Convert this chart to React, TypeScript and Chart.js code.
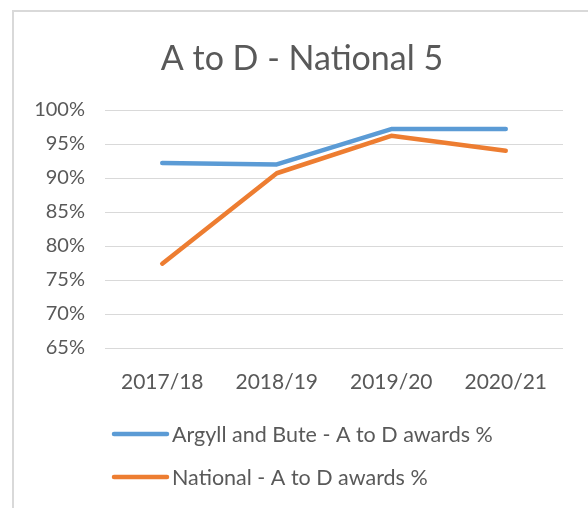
import React, { useEffect, useRef } from "react";
import { Chart, registerables } from "chart.js";

Chart.register(...registerables);

const TITLE = "A to D - National 5";
const categories = ["2017/18", "2018/19", "2019/20", "2020/21"];
const argyllValues = [92.2, 92.0, 97.2, 97.2];
const nationalValues = [77.4, 90.7, 96.2, 94.0];
const seriesNames = ["Argyll and Bute - A to D awards %", "National - A to D awards %"];
const seriesColors = ["#5B9BD5", "#ED7D31"];
const yMin = 65;
const yMax = 100;
const yStep = 5;

const FONT = "Lato, 'Open Sans', sans-serif";
const TEXT_COLOR = "#595959";

const overlayPlugin = {
  id: "overlay",
  afterDraw(chart: any) {
    const ctx = chart.ctx;
    ctx.save();
    // title
    ctx.fillStyle = TEXT_COLOR;
    ctx.font = `34px ${FONT}`;
    ctx.textAlign = "center";
    ctx.textBaseline = "alphabetic";
    ctx.fillText(TITLE, 302, 70);
    // legend
    const rows = [434, 477];
    ctx.font = `21.5px ${FONT}`;
    ctx.textAlign = "left";
    ctx.textBaseline = "middle";
    seriesNames.forEach((name, i) => {
      const y = rows[i];
      ctx.strokeStyle = seriesColors[i];
      ctx.lineWidth = 4.5;
      ctx.lineCap = "round";
      ctx.beginPath();
      ctx.moveTo(114, y);
      ctx.lineTo(167, y);
      ctx.stroke();
      ctx.fillStyle = TEXT_COLOR;
      ctx.fillText(name, 172, y + 1);
    });
    ctx.restore();
  },
};

export default function App() {
  const ref = useRef<HTMLCanvasElement | null>(null);
  useEffect(() => {
    if (!ref.current) return;
    const chart = new Chart(ref.current, {
      type: "line",
      data: {
        labels: categories,
        datasets: [
          {
            label: seriesNames[0],
            data: argyllValues,
            borderColor: seriesColors[0],
            backgroundColor: seriesColors[0],
            borderWidth: 4.5,
            borderCapStyle: "round",
            borderJoinStyle: "round",
            pointRadius: 0,
            tension: 0,
          },
          {
            label: seriesNames[1],
            data: nationalValues,
            borderColor: seriesColors[1],
            backgroundColor: seriesColors[1],
            borderWidth: 4.5,
            borderCapStyle: "round",
            borderJoinStyle: "round",
            pointRadius: 0,
            tension: 0,
          },
        ],
      },
      options: {
        animation: false,
        responsive: false,
        maintainAspectRatio: false,
        layout: { padding: { left: 0, top: 110, right: 25, bottom: 0 } },
        plugins: {
          legend: { display: false },
          title: { display: false },
          tooltip: { enabled: false },
        },
        scales: {
          x: {
            offset: true,
            grid: { display: false, drawTicks: false },
            border: { display: false },
            ticks: {
              color: TEXT_COLOR,
              font: { family: FONT, size: 21 },
              padding: 22,
              maxRotation: 0,
            },
            afterFit: (s: any) => {
              s.height = 160;
            },
          },
          y: {
            min: yMin,
            max: yMax,
            grid: { color: "#d9d9d9", lineWidth: 1, drawTicks: false },
            border: { display: false },
            ticks: {
              stepSize: yStep,
              color: TEXT_COLOR,
              font: { family: FONT, size: 20 },
              padding: 20,
              callback: (v: any) => `${v}%`,
            },
            afterFit: (s: any) => {
              s.width = 105;
            },
          },
        },
      },
      plugins: [overlayPlugin],
    });
    return () => chart.destroy();
  }, []);

  return (
    <div style={{ position: "absolute", left: 0, top: 0, width: 588, height: 508, background: "#fff", overflow: "hidden" }}>
      <div
        style={{
          position: "absolute",
          left: 12,
          top: 10,
          width: 620,
          height: 620,
          borderLeft: "2px solid #d9d9d9",
          borderTop: "2px solid #d9d9d9",
        }}
      />
      <canvas ref={ref} width={588} height={508} style={{ position: "absolute", left: 0, top: 0 }} />
    </div>
  );
}
